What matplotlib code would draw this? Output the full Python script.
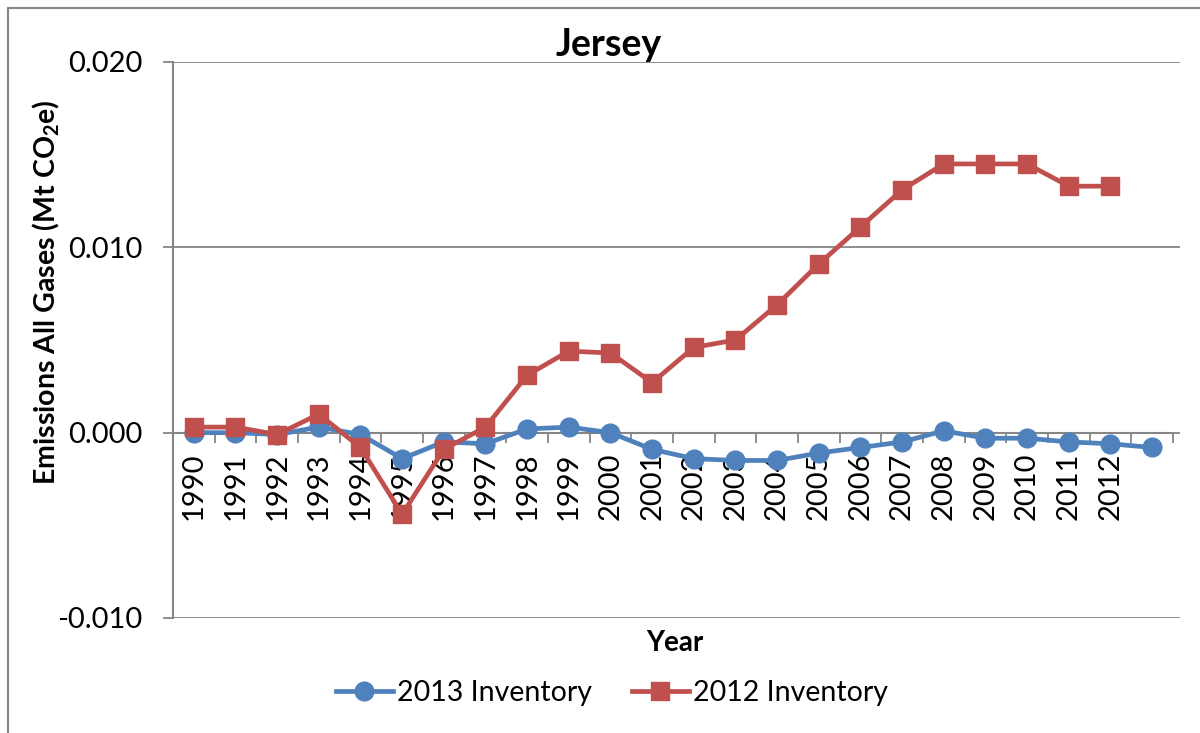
import numpy as np
import matplotlib
matplotlib.use('Agg')
import matplotlib.pyplot as plt
from matplotlib.patches import Rectangle

plt.rcParams['font.family'] = ['Lato', 'DejaVu Sans']
plt.rcParams['mathtext.default'] = 'regular'

# category labels (last category has no label)
years = [str(y) for y in range(1990, 2013)] + ['']

inv_2013 = [0.0000, 0.0000, -0.0001, 0.0003, -0.0001, -0.0014, -0.0005, -0.0006,
            0.0002, 0.0003, 0.0000, -0.0009, -0.0014, -0.0015, -0.0015, -0.0011,
            -0.0008, -0.0005, 0.0001, -0.0003, -0.0003, -0.0005, -0.0006, -0.0008]

inv_2012 = [0.0003, 0.0003, -0.0001, 0.0010, -0.0008, -0.0044, -0.0009, 0.0003,
            0.0031, 0.0044, 0.0043, 0.0027, 0.0046, 0.0050, 0.0069, 0.0091,
            0.0111, 0.0131, 0.0145, 0.0145, 0.0145, 0.0133, 0.0133]

yticks = [-0.010, 0.000, 0.010, 0.020]

blue = '#4F81BD'
red = '#C0504D'
grey = '#868686'

fig = plt.figure(figsize=(12, 7.33), dpi=100)
ax = fig.add_axes([173/1200, 1 - 618/733, (1180 - 173)/1200, (618 - 62)/733])

x13 = np.arange(len(inv_2013))
x12 = np.arange(len(inv_2012))
ax.plot(x13, inv_2013, color=blue, lw=3.4, marker='o', ms=13.5,
        label='2013 Inventory', zorder=3)
ax.plot(x12, inv_2012, color=red, lw=3.4, marker='s', ms=13,
        label='2012 Inventory', zorder=4)

ax.set_ylim(-0.010, 0.020)
ax.set_xlim(-0.5, len(years) - 0.5 + 0.17)
ax.set_yticks(yticks)
ax.set_yticklabels(['%.3f' % v for v in yticks])
ax.yaxis.grid(True, color=grey, lw=1.3)
ax.set_axisbelow(True)

# category axis sits on the zero line
for s in ['top', 'right']:
    ax.spines[s].set_visible(False)
ax.spines['bottom'].set_position(('data', 0))
ax.spines['bottom'].set_bounds(-0.5, len(years) - 0.5)
ax.spines['bottom'].set_color(grey)
ax.spines['bottom'].set_linewidth(1.5)
ax.spines['left'].set_color(grey)
ax.spines['left'].set_linewidth(1.5)

ax.set_xticks(np.arange(len(years)))
ax.set_xticklabels(years, rotation=90, va='top', ha='center')
ax.set_xticks(np.arange(len(years) + 1) - 0.5, minor=True)
ax.tick_params(axis='x', which='major', length=0, pad=14, labelsize=21)
ax.tick_params(axis='x', which='minor', length=7, width=1.3, color=grey, direction='out')
ax.tick_params(axis='y', length=7, width=1.3, color=grey, pad=15, labelsize=21)

fig.text(609/1200, 1 - 45/733, 'Jersey', ha='center', va='center',
         fontsize=27, fontweight='bold')
fig.text(675/1200, 1 - 643/733, 'Year', ha='center', va='center',
         fontsize=20, fontweight='bold')
fig.text(46/1200, 1 - 292/733, 'Emissions All Gases (Mt CO$_2$e)', ha='center',
         va='center', rotation=90, fontsize=20.5, fontweight='bold')

fig.legend(loc='center', bbox_to_anchor=(612/1200, 1 - 693/733), ncol=2,
           frameon=False, fontsize=20.5, handlelength=2.0, handletextpad=0.15,
           columnspacing=1.4)

# chart area border
fig.patches.append(Rectangle((8/1200, -0.5), 2, 0.5 + 1 - 8/733,
                             transform=fig.transFigure, fill=False,
                             edgecolor=grey, lw=1.5))

fig.savefig('out.png', dpi=100)
